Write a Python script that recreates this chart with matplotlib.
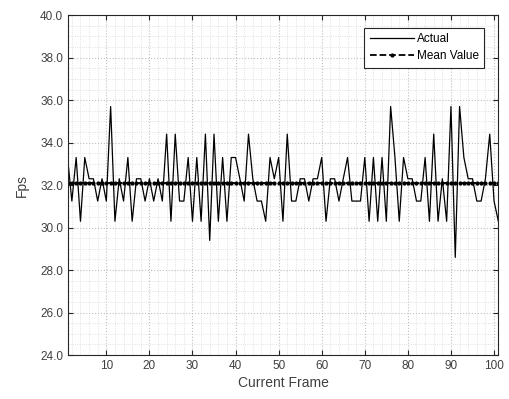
import numpy as np
from matplotlib import pyplot as plt
from matplotlib.ticker import MultipleLocator, FormatStrFormatter

# fps per frame
frames = list(range(1, 102))
fps = [33.3, 31.25, 33.3, 30.3, 33.3, 32.3, 32.3, 31.25, 32.3, 31.25,
       35.7, 30.3, 32.3, 31.25, 33.3, 30.3, 32.3, 32.3, 31.25, 32.3,
       31.25, 32.3, 31.25, 34.4, 30.3, 34.4, 31.25, 31.25, 33.3, 30.3,
       33.3, 30.3, 34.4, 29.4, 34.4, 30.3, 33.3, 30.3, 33.3, 33.3,
       32.3, 31.25, 34.4, 32.3, 31.25, 31.25, 30.3, 33.3, 32.3, 33.3,
       30.3, 34.4, 31.25, 31.25, 32.3, 32.3, 31.25, 32.3, 32.3, 33.3,
       30.3, 32.3, 32.3, 31.25, 32.3, 33.3, 31.25, 31.25, 31.25, 33.3,
       30.3, 33.3, 30.3, 33.3, 30.3, 35.7, 33.3, 30.3, 33.3, 32.3,
       32.3, 31.25, 31.25, 33.3, 30.3, 34.4, 30.3, 32.3, 30.3, 35.7,
       28.6, 35.7, 33.3, 32.3, 32.3, 31.25, 31.25, 32.3, 34.4, 31.25,
       30.3]
mean_fps = [np.mean(fps)] * len(fps)

plt.rcParams['font.family'] = ['Liberation Sans', 'DejaVu Sans']

fig = plt.figure(figsize=(5.1, 3.99), dpi=100)
ax = fig.add_axes([0.1333, 0.110, 0.843, 0.852])

ax.plot(frames, fps, color='black', linewidth=0.9, label='Actual')
ax.plot(frames, mean_fps, color='black', linestyle='--', linewidth=1.3,
        marker='.', markersize=4, label='Mean Value')

ax.set_xlim(1.1, 100.9)
ax.set_ylim(24, 40)
ax.xaxis.set_major_locator(MultipleLocator(10))
ax.xaxis.set_minor_locator(MultipleLocator(2))
ax.yaxis.set_major_locator(MultipleLocator(2))
ax.yaxis.set_minor_locator(MultipleLocator(0.5))
ax.yaxis.set_major_formatter(FormatStrFormatter('%.1f'))

ax.grid(True, which='major', color='#c0c0c0', linestyle=':', linewidth=0.8)
ax.grid(True, which='minor', color='#d8d8d8', linestyle=':', linewidth=0.6)
ax.set_axisbelow(True)

ax.tick_params(which='both', direction='in', top=True, right=True,
               labelsize=8.5, colors='#262626', labelcolor='#404040')
ax.tick_params(which='major', length=3.5)
ax.tick_params(which='minor', length=0)
for sp in ax.spines.values():
    sp.set_color('#262626')
    sp.set_linewidth(0.8)

ax.set_xlabel('Current Frame', fontsize=10, color='#404040', labelpad=3)
ax.set_ylabel('Fps', fontsize=10, color='#404040', labelpad=8)

leg = ax.legend(loc='upper right', bbox_to_anchor=(0.968, 0.963), fontsize=8.5,
                fancybox=False, framealpha=1, edgecolor='#262626',
                handlelength=3.8, borderpad=0.45, labelspacing=0.45,
                handletextpad=0.2, borderaxespad=0)
leg.get_frame().set_linewidth(0.8)

fig.savefig('out.png', dpi=100)
